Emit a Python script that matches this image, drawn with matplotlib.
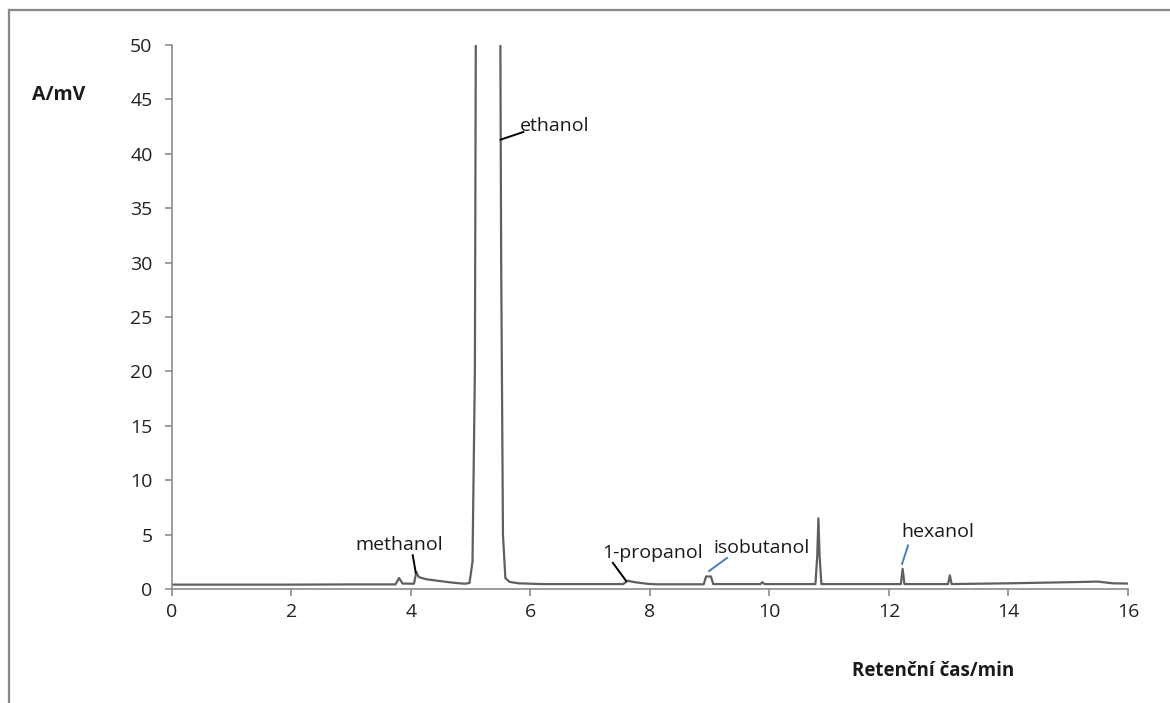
import matplotlib.pyplot as plt
from matplotlib.lines import Line2D

plt.rcParams["font.family"] = ["Open Sans", "DejaVu Sans"]

# chromatogram trace: retention time (min) and detector signal (mV)
time_min = [0.0, 2.0, 3.0, 3.74, 3.80, 3.86, 4.05, 4.09, 4.13, 4.25, 4.45, 4.7, 4.9,
            4.98, 5.03, 5.07, 5.09, 5.30, 5.49, 5.51, 5.54, 5.58, 5.65, 5.8, 6.2,
            7.55, 7.63, 7.75, 7.95, 8.1, 8.9, 8.94, 9.02, 9.06, 9.85, 9.88, 9.92,
            10.77, 10.80, 10.82, 10.84, 10.87, 12.2, 12.23, 12.26, 12.99, 13.02,
            13.05, 14.0, 15.0, 15.5, 15.62, 15.75, 16.0]
signal_mv = [0.40, 0.40, 0.42, 0.42, 1.00, 0.50, 0.48, 1.55, 1.10, 0.90, 0.75, 0.58,
             0.48, 0.55, 2.5, 20.0, 60.0, 60.0, 60.0, 30.0, 5.0, 1.0, 0.65, 0.52,
             0.45, 0.45, 0.75, 0.62, 0.48, 0.43, 0.43, 1.15, 1.15, 0.45, 0.45,
             0.62, 0.45, 0.45, 3.0, 6.5, 3.0, 0.45, 0.45, 1.85, 0.45, 0.45, 1.25,
             0.45, 0.52, 0.62, 0.68, 0.60, 0.52, 0.50]

# peak labels: text, text position, leader line start/end, leader colour
peak_names = ["ethanol", "methanol", "1-propanol", "isobutanol", "hexanol"]
label_xy = [(5.82, 42.6), (3.80, 4.0), (8.05, 3.3), (9.87, 3.8), (12.82, 5.2)]
leader_from = [(5.50, 41.3), (4.03, 3.1), (7.38, 2.4), (9.29, 2.85), (12.32, 4.0)]
leader_to = [(5.88, 42.0), (4.08, 1.5), (7.60, 0.75), (8.99, 1.65), (12.22, 2.3)]
leader_color = ["black", "black", "black", "#4a7ebb", "#4a7ebb"]

fig = plt.figure(figsize=(11.7, 7.03), dpi=100)
ax = fig.add_axes([0.147, 0.1622, 0.817, 0.7738])

ax.plot(time_min, signal_mv, color="#5f5f5f", linewidth=1.6)

for name, xy, p0, p1, c in zip(peak_names, label_xy, leader_from, leader_to, leader_color):
    ax.plot([p0[0], p1[0]], [p0[1], p1[1]], color=c, linewidth=1.4)
    ha = "left" if name == "ethanol" else "center"
    ax.text(xy[0], xy[1], name, ha=ha, va="center", fontsize=14, color="#1a1a1a")

ax.set_xlim(0, 16)
ax.set_ylim(0, 50)
ax.set_xticks(range(0, 17, 2))
ax.set_yticks(range(0, 51, 5))
for side in ("top", "right"):
    ax.spines[side].set_visible(False)
for side in ("left", "bottom"):
    ax.spines[side].set_color("#8c8c8c")
    ax.spines[side].set_linewidth(1.2)
ax.tick_params(axis="both", colors="#8c8c8c", labelcolor="#222222",
               labelsize=14, length=5, width=1.2)
ax.tick_params(axis="x", pad=5)
ax.tick_params(axis="y", pad=9)

fig.text(32 / 1170, 1 - 95 / 703, "A/mV", fontsize=14, fontweight="bold",
         ha="left", va="center", color="#1a1a1a")
fig.text(852 / 1170, 1 - 671 / 703, "Retenční čas/min", fontsize=13.5,
         fontweight="bold", ha="left", va="center", color="#1a1a1a")

# outer frame (top and left edges)
fig.add_artist(Line2D([9 / 1170, 1.0], [1 - 10 / 703, 1 - 10 / 703],
                      color="#888888", linewidth=1.6))
fig.add_artist(Line2D([9 / 1170, 9 / 1170], [0.0, 1 - 10 / 703],
                      color="#888888", linewidth=1.6))

fig.savefig("out.png", dpi=100)
